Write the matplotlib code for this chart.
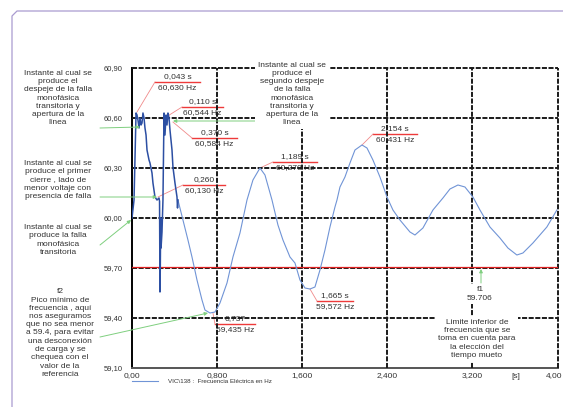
import numpy as np
import matplotlib
matplotlib.use("Agg")
import matplotlib.pyplot as plt
from matplotlib.lines import Line2D
from matplotlib.transforms import offset_copy

plt.rcParams['font.family'] = ['Liberation Sans', 'DejaVu Sans']

# frequency trace (time in s, frequency in Hz)
t_fast = [0.000, 0.019, 0.038, 0.047, 0.056, 0.066, 0.075, 0.085, 0.094, 0.103,
          0.113, 0.122, 0.132, 0.141, 0.160, 0.169, 0.188, 0.197, 0.216, 0.235,
          0.254, 0.259, 0.263, 0.266, 0.270, 0.273, 0.282, 0.291, 0.301, 0.310,
          0.320, 0.329, 0.338, 0.348, 0.357, 0.376, 0.385, 0.404, 0.423, 0.428,
          0.432]
f_fast = [60.000, 60.108, 60.630, 60.618, 60.588, 60.540, 60.600, 60.558, 60.570, 60.630,
          60.600, 60.540, 60.498, 60.408, 60.348, 60.330, 60.270, 60.210, 60.126, 60.108,
          60.120, 60.100, 59.556, 59.700, 60.000, 59.820, 59.916, 60.108, 60.630, 60.498,
          60.618, 60.558, 60.630, 60.600, 60.528, 60.408, 60.306, 60.210, 60.126, 60.060,
          60.108]
t_slow = [0.432, 0.479, 0.526, 0.564, 0.611, 0.658, 0.686, 0.733, 0.780, 0.827,
          0.893, 0.949, 1.015, 1.081, 1.137, 1.203, 1.250, 1.316, 1.372, 1.419,
          1.485, 1.532, 1.579, 1.626, 1.673, 1.720, 1.767, 1.814, 1.861, 1.908,
          1.927, 1.955, 2.002, 2.049, 2.096, 2.162, 2.209, 2.265, 2.331, 2.397,
          2.453, 2.519, 2.613, 2.660, 2.735, 2.829, 2.923, 2.989, 3.064, 3.130,
          3.205, 3.271, 3.365, 3.459, 3.534, 3.618, 3.675, 3.769, 3.900, 3.994]
f_slow = [60.108, 59.988, 59.868, 59.766, 59.628, 59.508, 59.448, 59.430, 59.436, 59.490,
          59.610, 59.766, 59.910, 60.108, 60.228, 60.300, 60.258, 60.108, 59.958, 59.868,
          59.766, 59.730, 59.628, 59.580, 59.574, 59.586, 59.688, 59.808, 59.946, 60.066,
          60.108, 60.186, 60.246, 60.330, 60.408, 60.438, 60.420, 60.348, 60.246, 60.126,
          60.048, 59.988, 59.916, 59.898, 59.940, 60.048, 60.120, 60.174, 60.198, 60.186,
          60.126, 60.048, 59.946, 59.880, 59.820, 59.778, 59.790, 59.850, 59.946, 60.048]

f1_limit = 59.706

y_ticks = [59.1, 59.4, 59.7, 60.0, 60.3, 60.6, 60.9]
y_labels = ['59,10', '59,40', '59,70', '60,00', '60,30', '60,60', '60,90']
x_ticks = [0.0, 0.8, 1.6, 2.4, 3.2, 4.0]
x_labels = ['0,00', '0,800', '1,600', '2,400', '3,200', '4,00']

# marker labels: point (t, f), underline height, underline x-range, two text lines
marks = [
    ((0.047, 60.636), 60.816, (0.216, 0.639), '0,043 s', '60,630 Hz'),
    ((0.291, 60.594), 60.666, (0.470, 0.855), '0,110 s', '60,544 Hz'),
    ((0.385, 60.576), 60.480, (0.564, 0.987), '0,370 s', '60,584 Hz'),
    ((0.244, 60.126), 60.198, (0.479, 0.874), '0,260', '60,130 Hz'),
    ((0.761, 59.430), 59.364, (0.780, 1.156), '0,737', '59,435 Hz'),
    ((1.203, 60.300), 60.336, (1.325, 1.739), '1,189 s', '60,270 Hz'),
    ((1.673, 59.574), 59.502, (1.739, 2.078), '1,665 s', '59,572 Hz'),
    ((2.162, 60.438), 60.504, (2.266, 2.679), '2,154 s', '60,431 Hz'),
]

W, H = 563, 407
fig = plt.figure(figsize=(W / 100, H / 100), dpi=100)
ax = fig.add_axes([132 / W, 1 - 368 / H, 425.5 / W, 300 / H])

ax.set_xlim(0, 4.0)
ax.set_ylim(59.1, 60.9)

line_col = '#7094d6'
ax.plot(t_slow, f_slow, color=line_col, lw=0.8, zorder=4,
        label='VIC\\138 :  Frecuencia Eléctrica en Hz')
ax.plot(t_fast, f_fast, color='#2c4fa3', lw=1.1, zorder=4)

ax.axhline(f1_limit, color='#e02020', lw=0.9, zorder=3.5)

# dashed grid drawn over the value labels
dash = (0, (2.6, 0.8))
for y in y_ticks[1:]:
    ax.axhline(y, color='#1a1a1a', lw=1.4, ls=dash, zorder=3, clip_on=False)
for x in x_ticks[1:]:
    ax.axvline(x, color='#1a1a1a', lw=1.4, ls=dash, zorder=3, clip_on=False)

for s in ['top', 'right']:
    ax.spines[s].set_visible(False)
ax.spines['left'].set_color('black')
ax.spines['left'].set_linewidth(1.4)
ax.spines['bottom'].set_color('#555555')
ax.spines['bottom'].set_linewidth(1.4)

ax.set_yticks(y_ticks)
ax.set_yticklabels(y_labels, fontsize=5.5, color='#333333')
ax.set_xticks(x_ticks)
ax.set_xticklabels(x_labels, fontsize=6, color='#333333')
ax.tick_params(axis='both', length=0, pad=7)
ax.tick_params(axis='x', pad=3)
# last label sits at the figure edge, pull it inwards a little
last = ax.get_xticklabels()[-1]
last.set_horizontalalignment('right')
last.set_transform(offset_copy(last.get_transform(), fig=fig, x=5, y=0, units='dots'))
ax.text(3.61, 59.1 - 0.03, '[s]', fontsize=6, color='#333333', ha='center', va='top')

# value markers with red underline and leader
for (pt, yl, (x0, x1), txt1, txt2) in marks:
    ax.plot([x0, x1], [yl, yl], color='#ee3a3a', lw=1.0, zorder=2)
    ax.plot([pt[0], x0], [pt[1], yl], color='#f08a8a', lw=0.6, zorder=2)
    xc = (x0 + x1) / 2
    ax.annotate(txt1, (xc, yl), xytext=(0, 1.5), textcoords='offset points',
                ha='center', va='bottom', fontsize=6, color='#333333', zorder=2)
    ax.annotate(txt2, (xc, yl), xytext=(0, -1.5), textcoords='offset points',
                ha='center', va='top', fontsize=6, color='#333333', zorder=2)

txt_col = '#333333'


def fig_text(x, y, s, box=False):
    kw = dict(fontsize=6, color=txt_col, ha='center', va='center',
              linespacing=1.25, zorder=6)
    if box:
        kw['bbox'] = dict(facecolor='white', edgecolor='none', pad=2)
    fig.text(x / W, 1 - y / H, s, **kw)


def green_arrow(x0, y0, x1, y1):
    ax.annotate('', xy=(x1, H - y1), xycoords='figure pixels',
                xytext=(x0, H - y0), textcoords='figure pixels',
                arrowprops=dict(arrowstyle='-|>', color='#7fcf7f', lw=0.7,
                                mutation_scale=5, shrinkA=0, shrinkB=0),
                annotation_clip=False, zorder=5)


fig_text(58, 98, 'Instante al cual se\nproduce el\ndespeje de la falla\nmonofásica\n'
                 'transitoria y\napertura de la\nlínea')
fig_text(58, 180, 'Instante al cual se\nproduce el primer\ncierre , lado de\n'
                  'menor voltaje con\npresencia de falla')
fig_text(58, 240, 'Instante al cual se\nproduce la falla\nmonofásica\ntransitoria')
fig_text(60, 333, 'f2\nPico mínimo de\nfrecuencia , aquí\nnos aseguramos\n'
                  'que no sea menor\na 59.4, para evitar\nuna desconexión\n'
                  'de carga y se\nchequea con el\nvalor de la\nreferencia')
fig_text(292, 94, 'Instante al cual se\nproduce el\nsegundo despeje\nde la falla\n'
                  'monofásica\ntransitoria y\napertura de la\nlínea', box=True)
fig_text(477, 339, 'Limite inferior de\nfrecuencia que se\ntoma en cuenta para\n'
                   'la elección del\ntiempo mueto', box=True)
fig_text(480, 294, 'f1\n59.706', box=True)

green_arrow(100, 128, 140, 127)
green_arrow(100, 197, 157, 197)
green_arrow(100, 245, 131, 220)
green_arrow(100, 337, 208, 313)
green_arrow(255, 121, 173, 121)
green_arrow(481, 283, 481, 269)

leg = ax.legend(loc='upper left', bbox_to_anchor=(0, -0.035), frameon=False,
                fontsize=4.5, handlelength=4.2, handletextpad=1.6,
                borderaxespad=0, borderpad=0)
for t in leg.get_texts():
    t.set_color('#333333')

# light purple frame
fig.add_artist(Line2D([12 / W, 12 / W, 17 / W, 1], [0, 1 - 16 / H, 1 - 11 / H, 1 - 11 / H],
                      transform=fig.transFigure, color='#a99bd0', lw=0.9))

fig.savefig('out.png', dpi=100)
